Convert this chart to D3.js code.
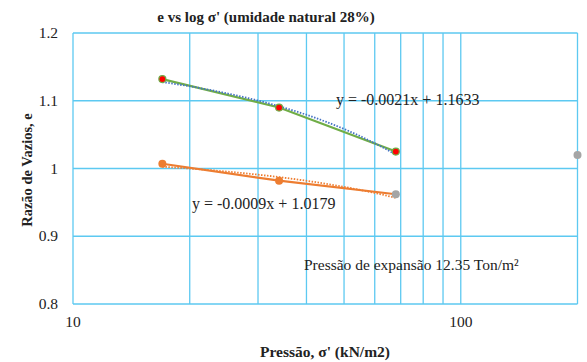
<!DOCTYPE html>
<html>
<head>
<meta charset="utf-8">
<script src="https://cdn.jsdelivr.net/npm/d3@7"></script>
<style>
  body { margin: 0; background: #fff; }
  text { font-family: "Liberation Serif", "Times New Roman", serif; fill: #222; }
</style>
</head>
<body>
<div id="chart"></div>
<script>
// données
var pressoes = [17, 34, 68];
var eNatural = [1.132, 1.090, 1.025];
var eExpansao = [1.007, 0.982, 0.962];
var pontoExtra = {x: 200, y: 1.02};
var tendVerde = {a: -0.0021, b: 1.1633};
var tendLaranja = {a: -0.0009, b: 1.0179};
var yTicks = [0.8, 0.9, 1.0, 1.1, 1.2];
var xTicks = [10, 100];
var xGrade = [10, 20, 30, 40, 50, 60, 70, 80, 90, 100, 200];

var largeurSvg = 587, hauteurSvg = 362;

var svg = d3.select("#chart").append("svg")
    .attr("width", largeurSvg)
    .attr("height", hauteurSvg);

var x = d3.scaleLog().domain([10, 200]).range([73, 577.5]);
var y = d3.scaleLinear().domain([0.8, 1.2]).range([304, 33]);

var corGrade = "#5DC9F1";

// grille
svg.append("g").selectAll("line").data(xGrade).enter().append("line")
    .attr("x1", function(d) { return x(d); }).attr("x2", function(d) { return x(d); })
    .attr("y1", y(1.2)).attr("y2", y(0.8))
    .attr("stroke", corGrade).attr("stroke-width", 1.3);
svg.append("g").selectAll("line").data(yTicks).enter().append("line")
    .attr("x1", x(10)).attr("x2", x(200))
    .attr("y1", function(d) { return y(d); }).attr("y2", function(d) { return y(d); })
    .attr("stroke", corGrade).attr("stroke-width", 1.3);

// rótulos dos eixos
svg.append("g").selectAll("text").data(yTicks).enter().append("text")
    .attr("x", 58).attr("y", function(d) { return y(d) + 5; })
    .attr("text-anchor", "end").attr("font-size", 15.5)
    .text(function(d) { return +d.toFixed(1); });
svg.append("g").selectAll("text").data(xTicks).enter().append("text")
    .attr("x", function(d) { return x(d); }).attr("y", 327)
    .attr("text-anchor", "middle").attr("font-size", 15.5)
    .text(function(d) { return d; });

// títulos
svg.append("text").attr("x", 266).attr("y", 22)
    .attr("text-anchor", "middle").attr("font-size", 15).attr("font-weight", "bold")
    .text("e vs log σ' (umidade natural 28%)");
svg.append("text").attr("x", 325).attr("y", 357)
    .attr("text-anchor", "middle").attr("font-size", 15.5).attr("font-weight", "bold")
    .text("Pressão, σ' (kN/m2)");
svg.append("text")
    .attr("transform", "translate(32,170) rotate(-90)")
    .attr("text-anchor", "middle").attr("font-size", 14.5).attr("font-weight", "bold")
    .text("Razão de Vazios, e");

// linhas de tendência (y = a x + b, desenhadas no eixo log)
function tendencia(t, cor) {
    var xs = d3.range(0, 41).map(function(i) {
        return Math.pow(10, Math.log10(pressoes[0]) + i / 40 * (Math.log10(pressoes[2]) - Math.log10(pressoes[0])));
    });
    svg.append("path")
        .datum(xs)
        .attr("fill", "none").attr("stroke", cor).attr("stroke-width", 1.8)
        .attr("stroke-dasharray", "1.5,1.5")
        .attr("d", d3.line().x(function(d) { return x(d); }).y(function(d) { return y(t.a * d + t.b); }));
}

var linha = d3.line()
    .x(function(d, i) { return x(pressoes[i]); })
    .y(function(d) { return y(d); });

svg.append("path").datum(eNatural)
    .attr("fill", "none").attr("stroke", "#70AD47").attr("stroke-width", 2.25)
    .attr("d", linha);
svg.append("path").datum(eExpansao)
    .attr("fill", "none").attr("stroke", "#ED7D31").attr("stroke-width", 2.25)
    .attr("d", linha);

tendencia(tendVerde, "#4472C4");
tendencia(tendLaranja, "#ED7D31");

// marcadores
svg.append("g").selectAll("circle").data(eNatural).enter().append("circle")
    .attr("cx", function(d, i) { return x(pressoes[i]); })
    .attr("cy", function(d) { return y(d); })
    .attr("r", 3.5).attr("fill", "#FF0000")
    .attr("stroke", "#70AD47").attr("stroke-width", 1.2);
svg.append("g").selectAll("circle").data(eExpansao).enter().append("circle")
    .attr("cx", function(d, i) { return x(pressoes[i]); })
    .attr("cy", function(d) { return y(d); })
    .attr("r", 4)
    .attr("fill", function(d, i) { return i == 2 ? "#A5A5A5" : "#ED7D31"; });
svg.append("circle")
    .attr("cx", x(pontoExtra.x)).attr("cy", y(pontoExtra.y))
    .attr("r", 4).attr("fill", "#A5A5A5");

// equações e nota
svg.append("text").attr("x", 336).attr("y", 105).attr("font-size", 16)
    .text("y = -0.0021x + 1.1633");
svg.append("text").attr("x", 192).attr("y", 209).attr("font-size", 16)
    .text("y = -0.0009x + 1.0179");
svg.append("text").attr("x", 304).attr("y", 270).attr("font-size", 15.5)
    .text("Pressão de expansão 12.35 Ton/m²");
</script>
</body>
</html>
